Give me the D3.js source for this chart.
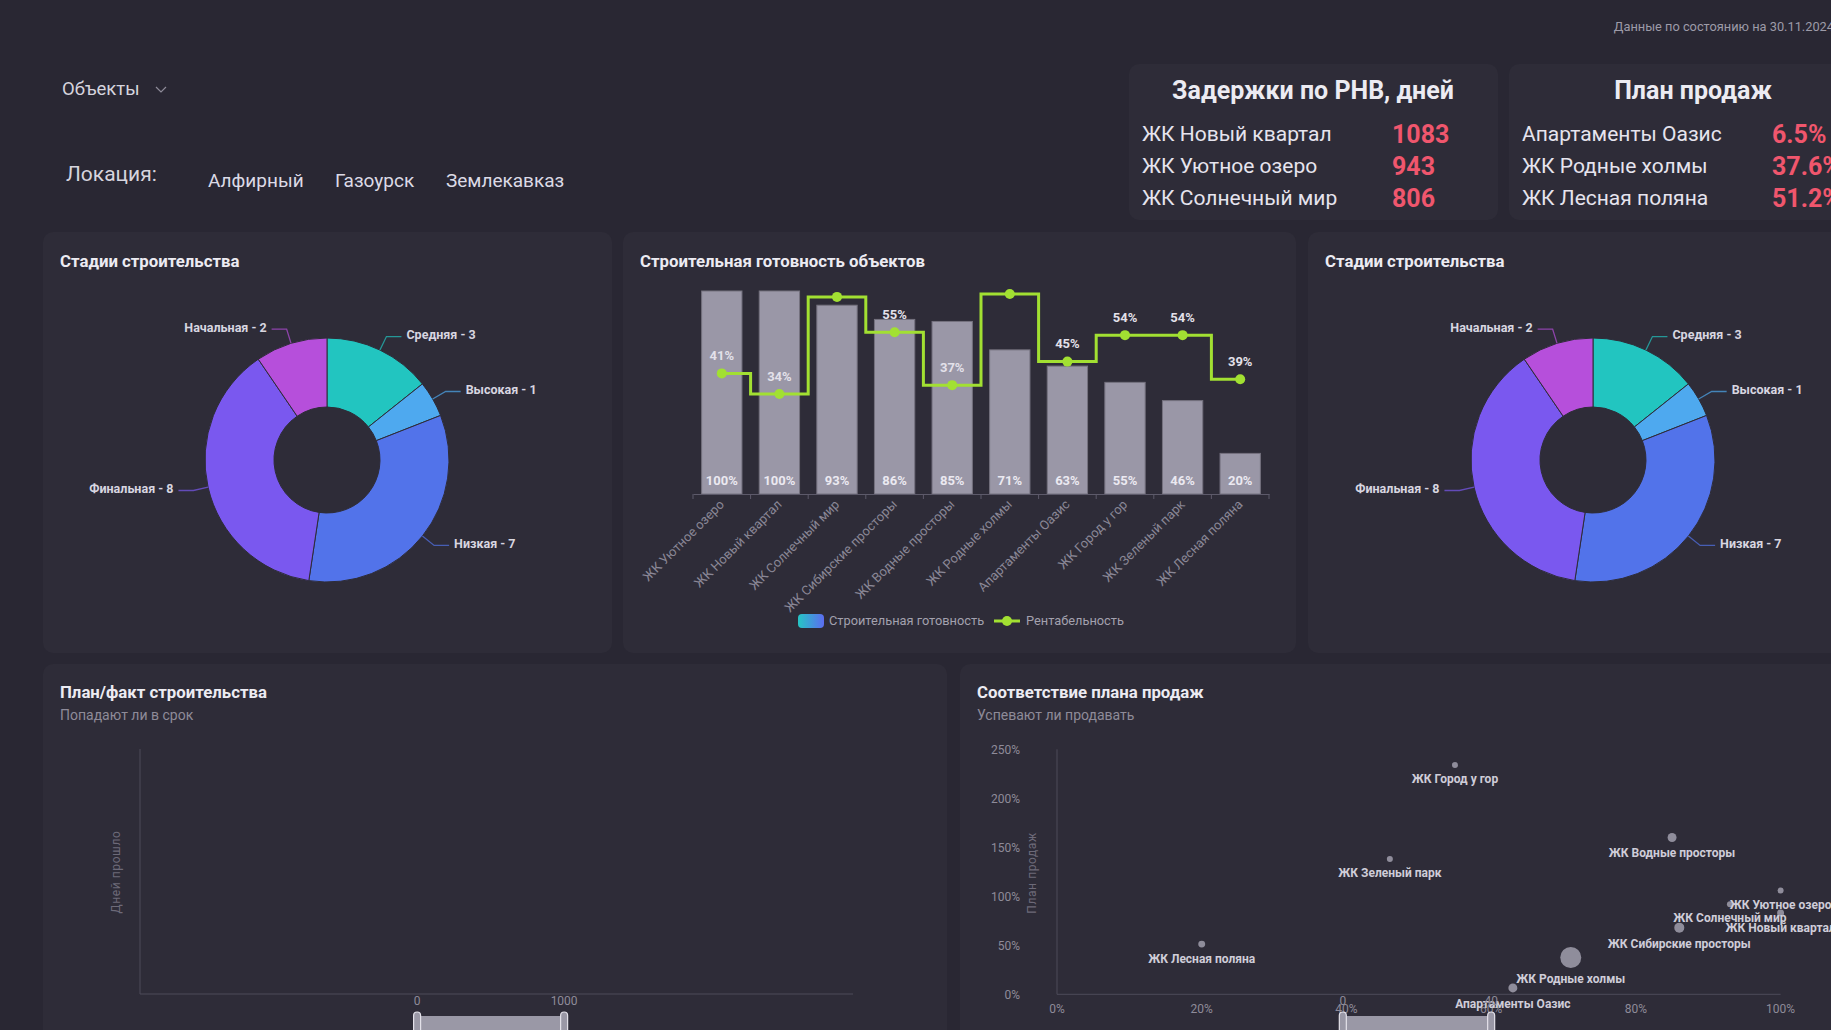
<!DOCTYPE html>
<html lang="ru">
<head>
<meta charset="utf-8">
<script src="https://d3js.org/d3.v7.min.js"></script>
<style>
  body { margin: 0; background: #292733; overflow: hidden; }
  svg text { font-family: Roboto, "Noto Sans", sans-serif; }
</style>
</head>
<body>
<script>
// ---- data ----
var locations = ["Алфирный", "Газоурск", "Землекавказ"];

var delayNames = ["ЖК Новый квартал", "ЖК Уютное озеро", "ЖК Солнечный мир"];
var delayDays = [1083, 943, 806];
var planNames = ["Апартаменты Оазис", "ЖК Родные холмы", "ЖК Лесная поляна"];
var planPercent = [6.5, 37.6, 51.2];

var stages = ["Средняя", "Высокая", "Низкая", "Финальная", "Начальная"];
var stageCounts = [3, 1, 7, 8, 2];
var stageColors = ["#22c5c0", "#4ea9ef", "#5273ea", "#7a58ef", "#b64fdb"];

var objects = ["ЖК Уютное озеро", "ЖК Новый квартал", "ЖК Солнечный мир", "ЖК Сибирские просторы",
               "ЖК Водные просторы", "ЖК Родные холмы", "Апартаменты Оазис", "ЖК Город у гор",
               "ЖК Зеленый парк", "ЖК Лесная поляна"];
var readiness = [100, 100, 93, 86, 85, 71, 63, 55, 46, 20];
var profitability = [41, 34, 67, 55, 37, 68, 45, 54, 54, 39];

// scatter: x = readiness, y = sales plan, bubble = size
var salesPlan = [106, 83, 92, 68, 160, 37.6, 6.5, 234, 138, 51.2];
var bubbleSize = [9, 12, 9, 25, 20, 110, 20, 9, 9, 12];
var scatterTicksX = [0, 20, 40, 60, 80, 100];
var scatterTicksY = [0, 50, 100, 150, 200, 250];
var scatterWindow = [39.5, 60];
var scatterWindowLabels = ["0", "40"];

var planFactTicks = [0, 1000];

// ---- colours ----
var panelBg = "#2e2c38";
var textMain = "#ecebf2";
var textGray = "#8e8b99";
var lineGreen = "#a2e032";
var axisColor = "#4d4b59";

var W = 1831, H = 1030;
var svg = d3.select("body").append("svg").attr("width", W).attr("height", H);
svg.append("rect").attr("width", W).attr("height", H).attr("fill", "#292733");

// panels and cards
function panel(x, y, w, h) {
  svg.append("rect").attr("x", x).attr("y", y).attr("width", w).attr("height", h)
     .attr("rx", 10).attr("fill", panelBg);
}
panel(1129, 64, 369, 156);
panel(1509, 64, 369, 156);
panel(43, 232, 569, 421);
panel(623, 232, 673, 421);
panel(1308, 232, 569, 421);
panel(43, 664, 904, 420);
panel(960, 664, 904, 420);

// ---- header ----
svg.append("text").attr("x", 1834).attr("y", 27).attr("dy", "0.35em")
   .attr("text-anchor", "end").attr("font-size", 12.8).attr("fill", "#9d9ba8")
   .text("Данные по состоянию на 30.11.2024");

svg.append("text").attr("x", 62).attr("y", 89).attr("dy", "0.35em")
   .attr("font-size", 18.5).attr("fill", "#d6d4de").text("Объекты");
svg.append("polyline").attr("points", "156,87 161,92 166,87")
   .attr("fill", "none").attr("stroke", textGray).attr("stroke-width", 1.2);

svg.append("text").attr("x", 66).attr("y", 174).attr("dy", "0.35em")
   .attr("font-size", 21).attr("fill", "#d6d4de").text("Локация:");
var locX = [208, 335, 446];
svg.selectAll("text.loc").data(locations).enter().append("text")
   .attr("class", "loc")
   .attr("x", function(d, i) { return locX[i]; })
   .attr("y", 180).attr("dy", "0.35em")
   .attr("font-size", 19).attr("fill", "#dcdae6")
   .text(function(d) { return d; });

// KPI cards
function card(x, title, names, values) {
  svg.append("text").attr("x", x + 184).attr("y", 90).attr("dy", "0.35em")
     .attr("text-anchor", "middle").attr("font-size", 25).attr("font-weight", 700)
     .attr("fill", textMain).text(title);
  var g = svg.append("g");
  g.selectAll("text.n").data(names).enter().append("text")
   .attr("x", x + 13).attr("y", function(d, i) { return 134 + i * 32; }).attr("dy", "0.35em")
   .attr("font-size", 21).attr("fill", "#e6e4ee").text(function(d) { return d; });
  g.selectAll("text.v").data(values).enter().append("text")
   .attr("x", x + 263).attr("y", function(d, i) { return 134 + i * 32; }).attr("dy", "0.35em")
   .attr("font-size", 25).attr("font-weight", 700).attr("fill", "#f0566d")
   .text(function(d) { return d; });
}
card(1129, "Задержки по РНВ, дней", delayNames, delayDays);
card(1509, "План продаж", planNames, planPercent.map(function(v) { return v + "%"; }));

// panel titles
function title(x, y, t) {
  svg.append("text").attr("x", x).attr("y", y).attr("dy", "0.35em")
     .attr("font-size", 16.8).attr("font-weight", 700).attr("fill", textMain).text(t);
}
function subtitle(x, y, t) {
  svg.append("text").attr("x", x).attr("y", y).attr("dy", "0.35em")
     .attr("font-size", 14).attr("fill", textGray).text(t);
}
title(60, 261, "Стадии строительства");
title(640, 261, "Строительная готовность объектов");
title(1325, 261, "Стадии строительства");
title(60, 692.5, "План/факт строительства");
subtitle(60, 715, "Попадают ли в срок");
title(977, 692.5, "Соответствие плана продаж");
subtitle(977, 715, "Успевают ли продавать");

// ---- donuts ----
function donut(cx, cy) {
  var R = 122, r = 53;
  var pie = d3.pie().sort(null).value(function(d) { return d; });
  var arc = d3.arc().innerRadius(r).outerRadius(R);
  var arcs = pie(stageCounts);
  var g = svg.append("g").attr("transform", "translate(" + cx + "," + cy + ")");
  g.selectAll("path").data(arcs).enter().append("path")
   .attr("d", arc)
   .attr("fill", function(d, i) { return stageColors[i]; })
   .attr("stroke", panelBg).attr("stroke-width", 1);

  arcs.forEach(function(d, i) {
    var a = (d.startAngle + d.endAngle) / 2;
    var s = Math.sin(a), c = -Math.cos(a);
    var p1 = [R * s, R * c];
    var p2 = [(R + 15) * s, (R + 15) * c];
    var side = s >= 0 ? 1 : -1;
    var p3 = [p2[0] + 15 * side, p2[1]];
    g.append("polyline").attr("points", [p1, p2, p3].join(" "))
     .attr("fill", "none").attr("stroke", stageColors[i]).attr("stroke-opacity", 0.7)
     .attr("stroke-width", 1.3);
    g.append("text").attr("x", p3[0] + 5 * side).attr("y", p3[1] - 1.5).attr("dy", "0.35em")
     .attr("text-anchor", side > 0 ? "start" : "end")
     .attr("font-size", 12.5).attr("font-weight", 700).attr("fill", "#d8d6e0")
     .text(stages[i] + " - " + stageCounts[i]);
  });
}
donut(327, 460);
donut(1593, 460);

// ---- bar + step line ----
var x = d3.scaleBand().domain(objects).range([693, 1269]).paddingInner(0.3).paddingOuter(0.15);
var yBar = d3.scaleLinear().domain([0, 100]).range([494, 291]);
var yLine = d3.scaleLinear().domain([0, 69]).range([494, 291]);
var cxB = function(d) { return x(d) + x.bandwidth() / 2; };

svg.append("g").selectAll("rect").data(objects).enter().append("rect")
   .attr("x", function(d) { return x(d); })
   .attr("y", function(d, i) { return yBar(readiness[i]); })
   .attr("width", x.bandwidth())
   .attr("height", function(d, i) { return yBar(0) - yBar(readiness[i]); })
   .attr("fill", "#9a97a7").attr("stroke", "#75727f").attr("stroke-width", 1);

svg.append("g").selectAll("text").data(objects).enter().append("text")
   .attr("x", cxB).attr("y", yBar(0) - 13.5).attr("dy", "0.35em")
   .attr("text-anchor", "middle").attr("font-size", 13).attr("font-weight", 700)
   .attr("fill", "#ebe9f1")
   .text(function(d, i) { return readiness[i] + "%"; });

// x axis, labels rotated, ticks on band boundaries
var xAxisG = svg.append("g").attr("transform", "translate(0," + yBar(0) + ")")
   .call(d3.axisBottom(x).tickSize(0).tickPadding(8));
xAxisG.select(".domain").attr("stroke", "#5d5a6a");
xAxisG.selectAll(".tick text")
   .attr("font-size", 13).attr("fill", "#8a8796")
   .attr("text-anchor", "end").attr("y", 8).attr("dy", "0.35em")
   .attr("transform", "rotate(-45,0,8)");
svg.append("g").selectAll("line").data(d3.range(objects.length + 1)).enter().append("line")
   .attr("x1", function(i) { return x.range()[0] + i * x.step(); })
   .attr("x2", function(i) { return x.range()[0] + i * x.step(); })
   .attr("y1", yBar(0)).attr("y2", yBar(0) + 5)
   .attr("stroke", "#5d5a6a");

var line = d3.line()
   .x(function(d, i) { return cxB(objects[i]); })
   .y(function(d) { return yLine(d); })
   .curve(d3.curveStep);
svg.append("path").datum(profitability).attr("d", line)
   .attr("fill", "none").attr("stroke", lineGreen).attr("stroke-width", 3);
svg.append("g").selectAll("circle").data(profitability).enter().append("circle")
   .attr("cx", function(d, i) { return cxB(objects[i]); })
   .attr("cy", function(d) { return yLine(d); })
   .attr("r", 5).attr("fill", lineGreen);
// labels only where they fit below the top of the plot
svg.append("g").selectAll("text").data(profitability).enter().append("text")
   .attr("x", function(d, i) { return cxB(objects[i]); })
   .attr("y", function(d) { return yLine(d) - 18; }).attr("dy", "0.35em")
   .attr("text-anchor", "middle").attr("font-size", 13).attr("font-weight", 700)
   .attr("fill", "#e3e1ea")
   .style("display", function(d) { return yLine(d) - 18 >= yBar(100) ? null : "none"; })
   .text(function(d) { return d + "%"; });

// legend
var grad = svg.append("defs").append("linearGradient").attr("id", "lg");
grad.append("stop").attr("offset", "0%").attr("stop-color", "#25c6c4");
grad.append("stop").attr("offset", "100%").attr("stop-color", "#5c6cf0");
svg.append("rect").attr("x", 798).attr("y", 614).attr("width", 26).attr("height", 14)
   .attr("rx", 4).attr("fill", "url(#lg)");
svg.append("text").attr("x", 829).attr("y", 621).attr("dy", "0.35em")
   .attr("font-size", 12.8).attr("fill", "#a3a1ae").text("Строительная готовность");
svg.append("line").attr("x1", 994).attr("x2", 1020).attr("y1", 621).attr("y2", 621)
   .attr("stroke", lineGreen).attr("stroke-width", 3);
svg.append("circle").attr("cx", 1007).attr("cy", 621).attr("r", 5).attr("fill", lineGreen);
svg.append("text").attr("x", 1026).attr("y", 621).attr("dy", "0.35em")
   .attr("font-size", 12.8).attr("fill", "#a3a1ae").text("Рентабельность");

// ---- plan/fact (empty) ----
var pfX = d3.scaleLinear().domain([-1885, 2965]).range([140, 853]);
svg.append("line").attr("x1", 140).attr("x2", 140).attr("y1", 749).attr("y2", 994).attr("stroke", axisColor);
svg.append("line").attr("x1", 140).attr("x2", 853).attr("y1", 994).attr("y2", 994).attr("stroke", axisColor);
svg.append("g").selectAll("text").data(planFactTicks).enter().append("text")
   .attr("x", function(d) { return pfX(d); }).attr("y", 1001).attr("dy", "0.35em")
   .attr("text-anchor", "middle").attr("font-size", 12).attr("fill", textGray)
   .text(function(d) { return d; });
svg.append("text").attr("transform", "translate(116,872) rotate(-90)")
   .attr("text-anchor", "middle").attr("dy", "0.35em")
   .attr("font-size", 12).attr("letter-spacing", 0.6).attr("fill", "#6d6a79").text("Дней прошло");

function slider(x0, x1) {
  svg.append("rect").attr("x", x0).attr("y", 1016).attr("width", x1 - x0).attr("height", 30)
     .attr("fill", "#9a98a6");
  [x0, x1].forEach(function(hx) {
    svg.append("rect").attr("x", hx - 3.5).attr("y", 1012).attr("width", 7).attr("height", 34)
       .attr("rx", 3.5).attr("fill", "#9a98a6").attr("stroke", "#e4e2ea").attr("stroke-width", 1.2);
  });
}
slider(pfX(planFactTicks[0]), pfX(planFactTicks[1]));

// ---- scatter ----
var sx = d3.scaleLinear().domain([0, 100]).range([1057, 1780.6]);
var sy = d3.scaleLinear().domain([0, 250]).range([994.3, 749.3]);
var sr = d3.scaleSqrt().domain([0, 110]).range([0, 10.5]);

svg.append("line").attr("x1", sx(0)).attr("x2", sx(0)).attr("y1", sy(250)).attr("y2", sy(0)).attr("stroke", axisColor);
svg.append("line").attr("x1", sx(0)).attr("x2", sx(100)).attr("y1", sy(0)).attr("y2", sy(0)).attr("stroke", axisColor);
svg.append("g").selectAll("text").data(scatterTicksY).enter().append("text")
   .attr("x", sx(0) - 37).attr("y", function(d) { return sy(d); }).attr("dy", "0.35em")
   .attr("text-anchor", "end").attr("font-size", 12).attr("fill", textGray)
   .text(function(d) { return d + "%"; });
svg.append("g").selectAll("text").data(scatterTicksX).enter().append("text")
   .attr("x", function(d) { return sx(d); }).attr("y", 1009).attr("dy", "0.35em")
   .attr("text-anchor", "middle").attr("font-size", 12).attr("fill", textGray)
   .text(function(d) { return d + "%"; });
svg.append("text").attr("transform", "translate(1032,873) rotate(-90)")
   .attr("text-anchor", "middle").attr("dy", "0.35em")
   .attr("font-size", 12).attr("letter-spacing", 0.6).attr("fill", "#6d6a79").text("План продаж");

svg.append("g").selectAll("circle").data(objects).enter().append("circle")
   .attr("cx", function(d, i) { return sx(readiness[i]); })
   .attr("cy", function(d, i) { return sy(salesPlan[i]); })
   .attr("r", function(d, i) { return sr(bubbleSize[i]); })
   .attr("fill", "#9a98a6").attr("fill-opacity", 0.9);
svg.append("g").selectAll("text").data(objects).enter().append("text")
   .attr("x", function(d, i) { return sx(readiness[i]); })
   .attr("y", function(d, i) { return sy(salesPlan[i]) + sr(bubbleSize[i]) + 11; })
   .attr("dy", "0.35em").attr("text-anchor", "middle")
   .attr("font-size", 12).attr("font-weight", 700).attr("fill", "#cfcdd8")
   .text(function(d) { return d; });

svg.append("g").selectAll("text").data(scatterWindowLabels).enter().append("text")
   .attr("x", function(d, i) { return sx(scatterWindow[i]); }).attr("y", 1001).attr("dy", "0.35em")
   .attr("text-anchor", "middle").attr("font-size", 12).attr("fill", textGray)
   .text(function(d) { return d; });
slider(sx(scatterWindow[0]), sx(scatterWindow[1]));
</script>
</body>
</html>
